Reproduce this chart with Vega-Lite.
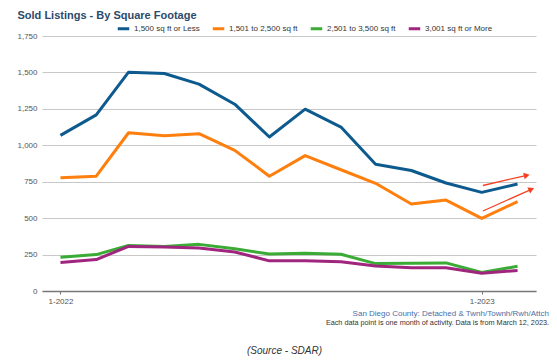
{
  "$schema": "https://vega.github.io/schema/vega-lite/v6.json",
  "width": 494,
  "height": 255,
  "autosize": {"type": "none"},
  "padding": {"left": 42, "top": 36, "right": 21, "bottom": 72},
  "background": "white",
  "config": {
    "font": "Liberation Sans",
    "view": {"stroke": null}
  },
  "title": {
    "text": "San Diego County: Detached & Twnh/Townh/Rwh/Attch",
    "subtitle": "Each data point is one month of activity. Data is from March 12, 2023.",
    "orient": "bottom",
    "anchor": "end",
    "frame": "group",
    "fontSize": 8,
    "fontWeight": "normal",
    "color": "#4a6fa5",
    "subtitleFontSize": 7.25,
    "subtitleColor": "#333333",
    "subtitlePadding": 1,
    "offset": -45,
    "dx": 13
  },
  "datasets": {
    "sales": [
      {"month": "2022-01-01", "category": "1,500 sq ft or Less", "sold": 1068},
      {"month": "2022-02-01", "category": "1,500 sq ft or Less", "sold": 1209},
      {"month": "2022-03-01", "category": "1,500 sq ft or Less", "sold": 1502},
      {"month": "2022-04-01", "category": "1,500 sq ft or Less", "sold": 1493},
      {"month": "2022-05-01", "category": "1,500 sq ft or Less", "sold": 1420},
      {"month": "2022-06-01", "category": "1,500 sq ft or Less", "sold": 1282},
      {"month": "2022-07-01", "category": "1,500 sq ft or Less", "sold": 1057},
      {"month": "2022-08-01", "category": "1,500 sq ft or Less", "sold": 1248},
      {"month": "2022-09-01", "category": "1,500 sq ft or Less", "sold": 1125},
      {"month": "2022-10-01", "category": "1,500 sq ft or Less", "sold": 870},
      {"month": "2022-11-01", "category": "1,500 sq ft or Less", "sold": 827},
      {"month": "2022-12-01", "category": "1,500 sq ft or Less", "sold": 741},
      {"month": "2023-01-01", "category": "1,500 sq ft or Less", "sold": 677},
      {"month": "2023-02-01", "category": "1,500 sq ft or Less", "sold": 734},
      {"month": "2022-01-01", "category": "1,501 to 2,500 sq ft", "sold": 777},
      {"month": "2022-02-01", "category": "1,501 to 2,500 sq ft", "sold": 788},
      {"month": "2022-03-01", "category": "1,501 to 2,500 sq ft", "sold": 1086},
      {"month": "2022-04-01", "category": "1,501 to 2,500 sq ft", "sold": 1066},
      {"month": "2022-05-01", "category": "1,501 to 2,500 sq ft", "sold": 1080},
      {"month": "2022-06-01", "category": "1,501 to 2,500 sq ft", "sold": 965},
      {"month": "2022-07-01", "category": "1,501 to 2,500 sq ft", "sold": 788},
      {"month": "2022-08-01", "category": "1,501 to 2,500 sq ft", "sold": 929},
      {"month": "2022-09-01", "category": "1,501 to 2,500 sq ft", "sold": 832},
      {"month": "2022-10-01", "category": "1,501 to 2,500 sq ft", "sold": 739},
      {"month": "2022-11-01", "category": "1,501 to 2,500 sq ft", "sold": 597},
      {"month": "2022-12-01", "category": "1,501 to 2,500 sq ft", "sold": 624},
      {"month": "2023-01-01", "category": "1,501 to 2,500 sq ft", "sold": 498},
      {"month": "2023-02-01", "category": "1,501 to 2,500 sq ft", "sold": 613},
      {"month": "2022-01-01", "category": "2,501 to 3,500 sq ft", "sold": 232},
      {"month": "2022-02-01", "category": "2,501 to 3,500 sq ft", "sold": 250},
      {"month": "2022-03-01", "category": "2,501 to 3,500 sq ft", "sold": 313},
      {"month": "2022-04-01", "category": "2,501 to 3,500 sq ft", "sold": 306},
      {"month": "2022-05-01", "category": "2,501 to 3,500 sq ft", "sold": 320},
      {"month": "2022-06-01", "category": "2,501 to 3,500 sq ft", "sold": 290},
      {"month": "2022-07-01", "category": "2,501 to 3,500 sq ft", "sold": 254},
      {"month": "2022-08-01", "category": "2,501 to 3,500 sq ft", "sold": 259},
      {"month": "2022-09-01", "category": "2,501 to 3,500 sq ft", "sold": 252},
      {"month": "2022-10-01", "category": "2,501 to 3,500 sq ft", "sold": 188},
      {"month": "2022-11-01", "category": "2,501 to 3,500 sq ft", "sold": 190},
      {"month": "2022-12-01", "category": "2,501 to 3,500 sq ft", "sold": 193},
      {"month": "2023-01-01", "category": "2,501 to 3,500 sq ft", "sold": 127},
      {"month": "2023-02-01", "category": "2,501 to 3,500 sq ft", "sold": 170},
      {"month": "2022-01-01", "category": "3,001 sq ft or More", "sold": 196},
      {"month": "2022-02-01", "category": "3,001 sq ft or More", "sold": 216},
      {"month": "2022-03-01", "category": "3,001 sq ft or More", "sold": 306},
      {"month": "2022-04-01", "category": "3,001 sq ft or More", "sold": 302},
      {"month": "2022-05-01", "category": "3,001 sq ft or More", "sold": 295},
      {"month": "2022-06-01", "category": "3,001 sq ft or More", "sold": 268},
      {"month": "2022-07-01", "category": "3,001 sq ft or More", "sold": 207},
      {"month": "2022-08-01", "category": "3,001 sq ft or More", "sold": 207},
      {"month": "2022-09-01", "category": "3,001 sq ft or More", "sold": 200},
      {"month": "2022-10-01", "category": "3,001 sq ft or More", "sold": 172},
      {"month": "2022-11-01", "category": "3,001 sq ft or More", "sold": 160},
      {"month": "2022-12-01", "category": "3,001 sq ft or More", "sold": 160},
      {"month": "2023-01-01", "category": "3,001 sq ft or More", "sold": 122},
      {"month": "2023-02-01", "category": "3,001 sq ft or More", "sold": 141}
    ],
    "arrows": [
      {"arrow": "upper", "start": "2023-01-02", "end": "2023-02-09", "from": 724, "to": 794},
      {"arrow": "lower", "start": "2023-01-02", "end": "2023-02-13", "from": 549, "to": 698}
    ]
  },
  "layer": [
    {
      "data": {"name": "sales"},
      "mark": {"type": "line", "strokeWidth": 3, "strokeJoin": "round"},
      "encoding": {
        "x": {
          "field": "month",
          "type": "temporal",
          "scale": {
            "type": "utc",
            "domain": [
              {"year": 2021, "month": 12, "date": 16, "utc": true},
              {"year": 2023, "month": 2, "date": 17, "utc": true}
            ]
          },
          "axis": {
            "values": [
              {"year": 2022, "month": 1, "date": 1, "utc": true},
              {"year": 2023, "month": 1, "date": 1, "utc": true}
            ],
            "format": "%-m-%Y",
            "grid": false,
            "domainColor": "#777777",
            "domainWidth": 1.5,
            "tickColor": "#777777",
            "tickSize": 3,
            "labelFontSize": 8,
            "labelColor": "#555555",
            "labelPadding": 3,
            "labelFlush": false,
            "title": "(Source - SDAR)",
            "titleFontStyle": "italic",
            "titleFontWeight": "normal",
            "titleFontSize": 10,
            "titleColor": "#333333",
            "titleX": 242,
            "titleY": 59,
            "titleAlign": "center",
            "titleBaseline": "middle"
          }
        },
        "y": {
          "field": "sold",
          "type": "quantitative",
          "scale": {"domain": [0, 1750], "nice": false},
          "axis": {
            "values": [0, 250, 500, 750, 1000, 1250, 1500, 1750],
            "format": ",d",
            "domain": false,
            "ticks": false,
            "grid": true,
            "gridColor": "#c8c8c8",
            "gridWidth": 1,
            "labelOverlap": false,
            "labelFontSize": 8,
            "labelColor": "#555555",
            "labelPadding": 5,
            "title": "Sold Listings - By Square Footage",
            "titleAngle": 0,
            "titleAlign": "left",
            "titleBaseline": "alphabetic",
            "titleX": -25,
            "titleY": -18,
            "titleFontSize": 11,
            "titleFontWeight": "bold",
            "titleColor": "#2c4a6b"
          }
        },
        "color": {
          "field": "category",
          "type": "nominal",
          "scale": {
            "domain": ["1,500 sq ft or Less", "1,501 to 2,500 sq ft", "2,501 to 3,500 sq ft", "3,001 sq ft or More"],
            "range": ["#0d5a8f", "#ff7f0e", "#3aab34", "#a0257f"]
          },
          "legend": {
            "orient": "none",
            "direction": "horizontal",
            "legendX": 74,
            "legendY": -15,
            "title": null,
            "symbolType": "stroke",
            "symbolStrokeWidth": 3,
            "symbolSize": 132,
            "labelFontSize": 8,
            "labelColor": "#333333",
            "labelOffset": 3,
            "columnPadding": 6,
            "padding": 0
          }
        }
      }
    },
    {
      "data": {"name": "arrows"},
      "mark": {"type": "rule", "color": "#f5401f", "strokeWidth": 1.3},
      "encoding": {
        "x": {
          "field": "start",
          "type": "temporal",
          "axis": {
            "values": [
              {"year": 2022, "month": 1, "date": 1, "utc": true},
              {"year": 2023, "month": 1, "date": 1, "utc": true}
            ],
            "format": "%-m-%Y",
            "grid": false,
            "domainColor": "#777777",
            "domainWidth": 1.5,
            "tickColor": "#777777",
            "tickSize": 3,
            "labelFontSize": 8,
            "labelColor": "#555555",
            "labelPadding": 3,
            "labelFlush": false,
            "title": "(Source - SDAR)",
            "titleFontStyle": "italic",
            "titleFontWeight": "normal",
            "titleFontSize": 10,
            "titleColor": "#333333",
            "titleX": 242,
            "titleY": 59,
            "titleAlign": "center",
            "titleBaseline": "middle"
          }
        },
        "x2": {"field": "end"},
        "y": {
          "field": "from",
          "type": "quantitative",
          "axis": {
            "values": [0, 250, 500, 750, 1000, 1250, 1500, 1750],
            "format": ",d",
            "domain": false,
            "ticks": false,
            "grid": true,
            "gridColor": "#c8c8c8",
            "gridWidth": 1,
            "labelOverlap": false,
            "labelFontSize": 8,
            "labelColor": "#555555",
            "labelPadding": 5,
            "title": "Sold Listings - By Square Footage",
            "titleAngle": 0,
            "titleAlign": "left",
            "titleBaseline": "alphabetic",
            "titleX": -25,
            "titleY": -18,
            "titleFontSize": 11,
            "titleFontWeight": "bold",
            "titleColor": "#2c4a6b"
          }
        },
        "y2": {"field": "to"}
      }
    },
    {
      "data": {"name": "arrows"},
      "transform": [{"filter": "datum.arrow == 'upper'"}],
      "mark": {"type": "point", "shape": "triangle-right", "filled": true, "color": "#f5401f", "size": 45, "angle": 347, "opacity": 1},
      "encoding": {
        "x": {
          "field": "end",
          "type": "temporal",
          "axis": {
            "values": [
              {"year": 2022, "month": 1, "date": 1, "utc": true},
              {"year": 2023, "month": 1, "date": 1, "utc": true}
            ],
            "format": "%-m-%Y",
            "grid": false,
            "domainColor": "#777777",
            "domainWidth": 1.5,
            "tickColor": "#777777",
            "tickSize": 3,
            "labelFontSize": 8,
            "labelColor": "#555555",
            "labelPadding": 3,
            "labelFlush": false,
            "title": "(Source - SDAR)",
            "titleFontStyle": "italic",
            "titleFontWeight": "normal",
            "titleFontSize": 10,
            "titleColor": "#333333",
            "titleX": 242,
            "titleY": 59,
            "titleAlign": "center",
            "titleBaseline": "middle"
          }
        },
        "y": {
          "field": "to",
          "type": "quantitative",
          "axis": {
            "values": [0, 250, 500, 750, 1000, 1250, 1500, 1750],
            "format": ",d",
            "domain": false,
            "ticks": false,
            "grid": true,
            "gridColor": "#c8c8c8",
            "gridWidth": 1,
            "labelOverlap": false,
            "labelFontSize": 8,
            "labelColor": "#555555",
            "labelPadding": 5,
            "title": "Sold Listings - By Square Footage",
            "titleAngle": 0,
            "titleAlign": "left",
            "titleBaseline": "alphabetic",
            "titleX": -25,
            "titleY": -18,
            "titleFontSize": 11,
            "titleFontWeight": "bold",
            "titleColor": "#2c4a6b"
          }
        }
      }
    },
    {
      "data": {"name": "arrows"},
      "transform": [{"filter": "datum.arrow == 'lower'"}],
      "mark": {"type": "point", "shape": "triangle-right", "filled": true, "color": "#f5401f", "size": 45, "angle": 336, "opacity": 1},
      "encoding": {
        "x": {
          "field": "end",
          "type": "temporal",
          "axis": {
            "values": [
              {"year": 2022, "month": 1, "date": 1, "utc": true},
              {"year": 2023, "month": 1, "date": 1, "utc": true}
            ],
            "format": "%-m-%Y",
            "grid": false,
            "domainColor": "#777777",
            "domainWidth": 1.5,
            "tickColor": "#777777",
            "tickSize": 3,
            "labelFontSize": 8,
            "labelColor": "#555555",
            "labelPadding": 3,
            "labelFlush": false,
            "title": "(Source - SDAR)",
            "titleFontStyle": "italic",
            "titleFontWeight": "normal",
            "titleFontSize": 10,
            "titleColor": "#333333",
            "titleX": 242,
            "titleY": 59,
            "titleAlign": "center",
            "titleBaseline": "middle"
          }
        },
        "y": {
          "field": "to",
          "type": "quantitative",
          "axis": {
            "values": [0, 250, 500, 750, 1000, 1250, 1500, 1750],
            "format": ",d",
            "domain": false,
            "ticks": false,
            "grid": true,
            "gridColor": "#c8c8c8",
            "gridWidth": 1,
            "labelOverlap": false,
            "labelFontSize": 8,
            "labelColor": "#555555",
            "labelPadding": 5,
            "title": "Sold Listings - By Square Footage",
            "titleAngle": 0,
            "titleAlign": "left",
            "titleBaseline": "alphabetic",
            "titleX": -25,
            "titleY": -18,
            "titleFontSize": 11,
            "titleFontWeight": "bold",
            "titleColor": "#2c4a6b"
          }
        }
      }
    }
  ]
}
